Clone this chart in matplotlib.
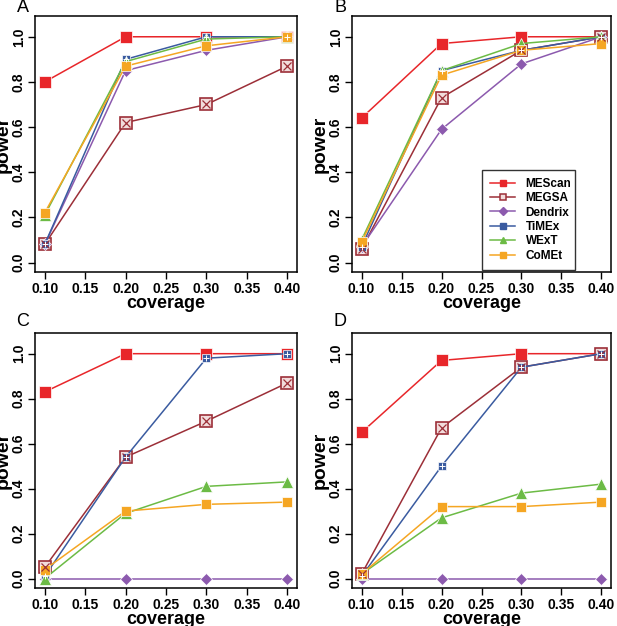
import numpy as np
import matplotlib
matplotlib.use("Agg")
import matplotlib.pyplot as plt
from matplotlib.lines import Line2D

plt.rcParams['font.family'] = ['Liberation Sans', 'DejaVu Sans']

# ---------------- data ----------------
coverage = [0.10, 0.20, 0.30, 0.40]
methods = ["MEScan", "MEGSA", "Dendrix", "TiMEx", "WExT", "CoMEt"]

power_A = {
    "MEScan":  [0.80, 1.00, 1.00, 1.00],
    "MEGSA":   [0.08, 0.62, 0.70, 0.87],
    "Dendrix": [0.08, 0.85, 0.94, 1.00],
    "TiMEx":   [0.08, 0.90, 1.00, 1.00],
    "WExT":    [0.21, 0.89, 0.99, 1.00],
    "CoMEt":   [0.22, 0.87, 0.96, 1.00],
}
power_B = {
    "MEScan":  [0.64, 0.97, 1.00, 1.00],
    "MEGSA":   [0.06, 0.73, 0.94, 1.00],
    "Dendrix": [0.07, 0.59, 0.88, 1.00],
    "TiMEx":   [0.07, 0.85, 0.94, 1.00],
    "WExT":    [0.10, 0.85, 0.97, 1.00],
    "CoMEt":   [0.09, 0.83, 0.94, 0.97],
}
power_C = {
    "MEScan":  [0.83, 1.00, 1.00, 1.00],
    "MEGSA":   [0.05, 0.54, 0.70, 0.87],
    "Dendrix": [0.00, 0.00, 0.00, 0.00],
    "TiMEx":   [0.01, 0.54, 0.98, 1.00],
    "WExT":    [0.00, 0.29, 0.41, 0.43],
    "CoMEt":   [0.04, 0.30, 0.33, 0.34],
}
power_D = {
    "MEScan":  [0.65, 0.97, 1.00, 1.00],
    "MEGSA":   [0.02, 0.67, 0.94, 1.00],
    "Dendrix": [0.00, 0.00, 0.00, 0.00],
    "TiMEx":   [0.01, 0.50, 0.94, 1.00],
    "WExT":    [0.02, 0.27, 0.38, 0.42],
    "CoMEt":   [0.02, 0.32, 0.32, 0.34],
}
panel_letters = ["A", "B", "C", "D"]

# ---------------- styles ----------------
colors = {
    "MEScan": "#E8262A",
    "MEGSA": "#9C2F38",
    "Dendrix": "#8C5AAE",
    "TiMEx": "#3A5BA0",
    "WExT": "#6CBB45",
    "CoMEt": "#F5A623",
}
markers = {"MEScan": "s", "MEGSA": "s", "Dendrix": "D",
           "TiMEx": "s", "WExT": "^", "CoMEt": "s"}
msizes = {"MEScan": 8, "MEGSA": 8, "Dendrix": 6.5,
          "TiMEx": 5.5, "WExT": 9, "CoMEt": 7}

fig = plt.figure(figsize=(6.17, 6.26), dpi=100)
W, H = 617, 626
boxes = [(35, 16, 297, 272), (352, 16, 611, 272),
         (35, 333, 297, 588), (352, 333, 611, 588)]


def draw(ax, data):
    for m in methods:
        c = colors[m]
        if m == "MEGSA":
            ax.plot(coverage, data[m], color=c, lw=1.1, marker="s",
                    ms=msizes[m], mfc="#F2DCDC", mec=c, mew=1.2, zorder=3)
            ax.plot(coverage, data[m], ls="none", marker="x", ms=5.5,
                    mec=c, mew=0.9, zorder=4)
        elif m == "TiMEx":
            ax.plot(coverage, data[m], color=c, lw=1.1, marker="s",
                    ms=msizes[m], mfc=c, mec="white", mew=0.5, zorder=3)
            ax.plot(coverage, data[m], ls="none", marker="+", ms=4,
                    mec="white", mew=0.7, zorder=4)
        else:
            ax.plot(coverage, data[m], color=c, lw=1.1, marker=markers[m],
                    ms=msizes[m], mfc=c, mec="white", mew=0.5, zorder=3)


for i, data in enumerate([power_A, power_B, power_C, power_D]):
    x0, y0, x1, y1 = boxes[i]
    wpx, hpx = x1 - x0, y1 - y0
    ax = fig.add_axes([x0 / W, 1 - y1 / H, wpx / W, hpx / H])
    draw(ax, data)
    ax.set_xlim(0.088, 0.412)
    ax.set_ylim(-0.042, 1.092)
    ax.set_xticks([0.10, 0.15, 0.20, 0.25, 0.30, 0.35, 0.40])
    ax.set_xticklabels(["0.10", "0.15", "0.20", "0.25", "0.30", "0.35", "0.40"],
                       fontsize=10, fontweight="bold")
    ax.set_yticks([0.0, 0.2, 0.4, 0.6, 0.8, 1.0])
    ax.set_yticklabels(["0.0", "0.2", "0.4", "0.6", "0.8", "1.0"],
                       fontsize=10, fontweight="bold", rotation=90, va="center")
    ax.tick_params(direction="out", length=5, width=1)
    ax.tick_params(axis="x", pad=2.5)
    ax.tick_params(axis="y", pad=1.5)
    for s in ax.spines.values():
        s.set_linewidth(1.1)
    ax.set_xlabel("coverage", fontsize=13, fontweight="bold")
    ax.xaxis.set_label_coords(0.5, -23 / hpx)
    ax.set_ylabel("power", fontsize=14, fontweight="bold")
    ax.yaxis.set_label_coords(-23 / wpx, 0.5)
    ly = max(y0 - 11, 8)
    fig.text((x0 - 12) / W, 1 - ly / H, panel_letters[i],
             fontsize=13, ha="center", va="center")

    if i == 1:
        handles = []
        for m in methods:
            c = colors[m]
            if m == "MEGSA":
                h = Line2D([], [], color=c, lw=1.1, marker="s", ms=5,
                           mfc="#F2DCDC", mec=c, mew=1.1)
            else:
                h = Line2D([], [], color=c, lw=1.1, marker=markers[m],
                           ms=5 if m != "Dendrix" else 4, mfc=c, mec=c)
            handles.append(h)
        leg = ax.legend(handles, methods, loc="lower left",
                        bbox_to_anchor=(0.502, 0.008, 0.359, 0.38),
                        mode="expand", frameon=True, fancybox=False,
                        edgecolor="black", handlelength=2.1,
                        handletextpad=0.9,
                        prop={"size": 8.5, "weight": "bold"},
                        labelspacing=0.2, borderaxespad=0, borderpad=0.7)
        leg.get_frame().set_linewidth(1.0)

fig.savefig("out.png", dpi=100)
